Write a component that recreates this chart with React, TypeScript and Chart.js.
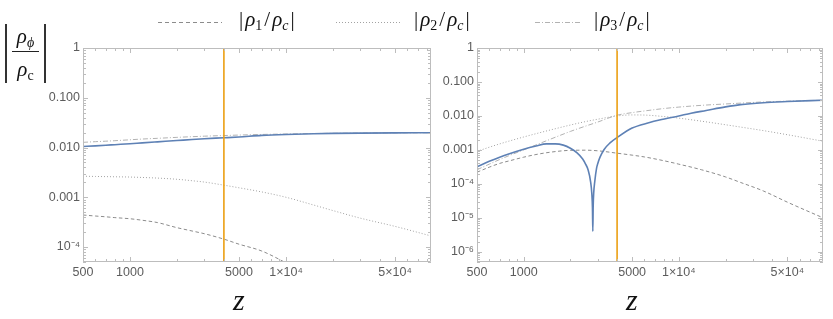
import React, { useEffect, useRef } from 'react';
import { Chart, registerables } from 'chart.js';

Chart.register(...registerables);

// ---------- data ----------
const Z_MARK = 4000;
const X_TICKS = [500, 1000, 5000, 10000, 50000];
const X_TICK_LABELS = ['500', '1000', '5000', '1×10⁴', '5×10⁴'];
const X_MINOR = [600, 700, 800, 900, 2000, 3000, 4000, 6000, 7000, 8000, 9000, 20000, 30000, 40000, 60000, 70000, 80000];

const Y_TICKS_L = [1e-4, 1e-3, 1e-2, 1e-1, 1];
const Y_LABELS_L = ['10⁻⁴', '0.001', '0.010', '0.100', '1'];
const Y_TICKS_R = [1e-6, 1e-5, 1e-4, 1e-3, 1e-2, 1e-1, 1];
const Y_LABELS_R = ['10⁻⁶', '10⁻⁵', '10⁻⁴', '0.001', '0.010', '0.100', '1'];

// left panel
const zL = [500, 600, 700, 800, 1000, 1200, 1500, 2000, 2500, 3000, 4000, 5000, 7000, 10000, 15000, 20000, 30000, 50000, 85000];
const phiL = [0.0105, 0.0108, 0.0111, 0.0114, 0.0119, 0.0124, 0.0130, 0.0138, 0.0145, 0.0150, 0.0157, 0.0163, 0.0175, 0.0183, 0.0189, 0.0192, 0.0195, 0.0197, 0.0198];
const rho1L = [4.4e-4, 4.2e-4, 4.05e-4, 3.9e-4, 3.7e-4, 3.45e-4, 3.1e-4, 2.45e-4, 2.1e-4, 1.85e-4, 1.44e-4, 1.14e-4, 8.3e-5, 4.8e-5, 2.4e-5, 1.4e-5, 6.5e-6, 2.6e-6, 9e-7];
const rho2L = [2.65e-3, 2.62e-3, 2.6e-3, 2.58e-3, 2.55e-3, 2.5e-3, 2.43e-3, 2.3e-3, 2.15e-3, 2.02e-3, 1.75e-3, 1.55e-3, 1.28e-3, 1.0e-3, 7.0e-4, 5.4e-4, 3.8e-4, 2.6e-4, 1.67e-4];
const rho3L = [0.0127, 0.0131, 0.0134, 0.0137, 0.0143, 0.0148, 0.0153, 0.0160, 0.0165, 0.0169, 0.0174, 0.0178, 0.0183, 0.0187, 0.0191, 0.0193, 0.0195, 0.0197, 0.0198];

// right panel
const zR = [500, 600, 700, 800, 1000, 1200, 1500, 2000, 2500, 3000, 4000, 5000, 6000, 8000, 10000, 14000, 20000, 25000, 35000, 50000, 85000];
const rho1R = [2.2e-4, 3.1e-4, 4.0e-4, 4.7e-4, 6.1e-4, 7.3e-4, 8.6e-4, 9.7e-4, 9.8e-4, 9.4e-4, 8.0e-4, 7.0e-4, 6.2e-4, 4.8e-4, 3.8e-4, 2.6e-4, 1.6e-4, 1.1e-4, 6.2e-5, 2.9e-5, 1.0e-5];
const rho2R = [9.0e-4, 1.2e-3, 1.5e-3, 1.8e-3, 2.4e-3, 3.0e-3, 3.9e-3, 5.4e-3, 6.8e-3, 8.0e-3, 1.0e-2, 1.07e-2, 1.06e-2, 9.6e-3, 8.6e-3, 7.0e-3, 5.5e-3, 4.7e-3, 3.7e-3, 2.8e-3, 1.8e-3];
const rho3R = [2.6e-4, 3.8e-4, 5.2e-4, 6.7e-4, 1.0e-3, 1.4e-3, 2.1e-3, 3.5e-3, 5.0e-3, 6.6e-3, 1.05e-2, 1.25e-2, 1.4e-2, 1.65e-2, 1.82e-2, 2.05e-2, 2.25e-2, 2.38e-2, 2.58e-2, 2.72e-2, 2.9e-2];
const zPhiR = [500, 600, 700, 800, 1000, 1200, 1400, 1600, 1800, 2000, 2200, 2400, 2500, 2600, 2700, 2750, 2775, 2790, 2805, 2830, 2870, 2950, 3000, 3100, 3300, 3600, 4000, 5000, 6400, 7500, 10000, 12000, 15000, 20000, 25000, 35000, 50000, 85000];
const phiR = [3.2e-4, 4.6e-4, 6.1e-4, 7.6e-4, 1.05e-3, 1.3e-3, 1.5e-3, 1.5e-3, 1.38e-3, 1.12e-3, 8.3e-4, 5.4e-4, 3.9e-4, 2.6e-4, 1.15e-4, 5.0e-5, 1.9e-5, 4e-6, 2.2e-5, 5.8e-5, 1.15e-4, 2.9e-4, 3.9e-4, 6.0e-4, 1.03e-3, 1.6e-3, 2.3e-3, 4.4e-3, 6.3e-3, 7.6e-3, 1.0e-2, 1.2e-2, 1.45e-2, 1.85e-2, 2.15e-2, 2.45e-2, 2.65e-2, 2.9e-2];

// ---------- styling ----------
const BLUE = '#5e81b5';
const ORANGE = '#eb9f12';
const FRAME = '#bdbdbd';
const TICK_TXT = '#5c5c5c';

const pts = (zs: number[], ys: number[]) => zs.map((z, i) => ({ x: z, y: ys[i] }));

const framePlugin = {
  id: 'mmaFrame',
  afterDraw(chart: any) {
    const { ctx, chartArea } = chart;
    const { left, right, top, bottom } = chartArea;
    const xs = chart.scales.x;
    const ys = chart.scales.y;
    ctx.save();
    ctx.strokeStyle = FRAME;
    ctx.lineWidth = 1;
    ctx.beginPath();
    ctx.rect(Math.round(left) + 0.5, Math.round(top) + 0.5, Math.round(right - left) - 1, Math.round(bottom - top) - 1);
    ctx.stroke();
    const drawX = (v: number, len: number) => {
      const p = Math.round(xs.getPixelForValue(v)) + 0.5;
      ctx.moveTo(p, bottom);
      ctx.lineTo(p, bottom - len);
      ctx.moveTo(p, top);
      ctx.lineTo(p, top + len);
    };
    const drawY = (v: number, len: number) => {
      const p = Math.round(ys.getPixelForValue(v)) + 0.5;
      ctx.moveTo(left, p);
      ctx.lineTo(left + len, p);
      ctx.moveTo(right, p);
      ctx.lineTo(right - len, p);
    };
    ctx.beginPath();
    X_TICKS.forEach((v) => drawX(v, 5));
    X_MINOR.forEach((v) => drawX(v, 3));
    const yMin = ys.min;
    for (let k = Math.floor(Math.log10(yMin)); k <= 0; k++) {
      for (let m = 1; m <= 9; m++) {
        const v = m * Math.pow(10, k);
        if (v < yMin * 0.999 || v > 1.0001) continue;
        drawY(v, m === 1 ? 5 : 3);
      }
    }
    ctx.stroke();
    ctx.restore();
  },
};

function makeConfig(
  series: { z: number[]; v: number[]; color: string; dash: number[]; width: number }[],
  yMin: number,
  yTicks: number[],
  yLabels: string[],
  yWidth: number,
  padRight: number
): any {
  const datasets: any[] = [
    {
      data: [
        { x: Z_MARK, y: yMin },
        { x: Z_MARK, y: 1 },
      ],
      borderColor: ORANGE,
      borderWidth: 1.6,
      pointRadius: 0,
      showLine: true,
    },
    ...series.map((s) => ({
      data: pts(s.z, s.v),
      borderColor: s.color,
      borderWidth: s.width,
      borderDash: s.dash,
      pointRadius: 0,
      showLine: true,
      cubicInterpolationMode: 'monotone',
    })),
  ];
  const tickFont = { family: 'Liberation Sans, Arial, sans-serif', size: 12.5 };
  return {
    type: 'scatter',
    data: { datasets },
    options: {
      animation: false,
      responsive: false,
      events: [],
      layout: { padding: { left: 0, right: padRight, top: 48, bottom: 0 } },
      plugins: { legend: { display: false }, tooltip: { enabled: false } },
      scales: {
        x: {
          type: 'logarithmic',
          min: 500,
          max: 85000,
          bounds: 'data',
          grid: { display: false, drawTicks: false },
          border: { display: false },
          ticks: {
            autoSkip: false,
            maxRotation: 0,
            padding: 3,
            color: TICK_TXT,
            font: tickFont,
            callback: (_v: any, i: number) => X_TICK_LABELS[i],
          },
          afterBuildTicks: (s: any) => {
            s.ticks = X_TICKS.map((v) => ({ value: v }));
          },
          afterFit: (s: any) => {
            s.height = 57;
          },
        },
        y: {
          type: 'logarithmic',
          min: yMin,
          max: 1,
          bounds: 'data',
          grid: { display: false, drawTicks: false },
          border: { display: false },
          ticks: {
            autoSkip: false,
            padding: 3,
            color: TICK_TXT,
            font: tickFont,
            callback: (_v: any, i: number) => yLabels[i],
          },
          afterBuildTicks: (s: any) => {
            s.ticks = yTicks.map((v) => ({ value: v }));
          },
          afterFit: (s: any) => {
            s.width = yWidth;
          },
        },
      },
    },
    plugins: [framePlugin],
  };
}

function Panel({ config, left, width }: { config: any; left: number; width: number }) {
  const ref = useRef<HTMLCanvasElement>(null);
  useEffect(() => {
    const chart = new Chart(ref.current as HTMLCanvasElement, config);
    return () => chart.destroy();
  }, [config]);
  return (
    <canvas
      ref={ref}
      width={width}
      height={319}
      style={{ position: 'absolute', left, top: 0, width, height: 319 }}
    />
  );
}

const G1 = '#8c8c8c';
const G2 = '#a2a2a2';
const G3 = '#b2b2b2';
const DASH1 = [3.5, 2.5];
const DASH2 = [1, 2];
const DASH3 = [5, 2, 1, 2];

const leftConfig = makeConfig(
  [
    { z: zL, v: phiL, color: BLUE, dash: [], width: 1.6 },
    { z: zL, v: rho1L, color: G1, dash: DASH1, width: 1 },
    { z: zL, v: rho2L, color: G2, dash: DASH2, width: 1 },
    { z: zL, v: rho3L, color: G3, dash: DASH3, width: 1 },
  ],
  5e-5,
  Y_TICKS_L,
  Y_LABELS_L,
  83,
  9
);

const rightConfig = makeConfig(
  [
    { z: zPhiR, v: phiR, color: BLUE, dash: [], width: 1.6 },
    { z: zR, v: rho1R, color: G1, dash: DASH1, width: 1 },
    { z: zR, v: rho2R, color: G2, dash: DASH2, width: 1 },
    { z: zR, v: rho3R, color: G3, dash: DASH3, width: 1 },
  ],
  5e-7,
  Y_TICKS_R,
  Y_LABELS_R,
  37,
  10
);

const serif = '"Liberation Serif", "Times New Roman", serif';

function LegendText({ sub, left }: { sub: string; left: number }) {
  return (
    <div
      style={{
        position: 'absolute',
        left,
        top: 9,
        fontFamily: serif,
        fontSize: 21,
        lineHeight: '21px',
        whiteSpace: 'nowrap',
        color: '#111',
      }}
    >
      <span style={{ marginRight: 2 }}>|</span>
      <i>ρ</i>
      <span style={{ fontSize: 14, position: 'relative', top: 4 }}>{sub}</span>
      <span style={{ margin: '0 2px' }}>/</span>
      <i>ρ</i>
      <i style={{ fontSize: 14, position: 'relative', top: 4 }}>c</i>
      <span style={{ marginLeft: 2 }}>|</span>
    </div>
  );
}

function LegendSample({ left, width, dash, color }: { left: number; width: number; dash: string; color: string }) {
  return (
    <svg style={{ position: 'absolute', left, top: 21 }} width={width} height={4}>
      <line x1={0} y1={1.5} x2={width} y2={1.5} stroke={color} strokeWidth={1.2} strokeDasharray={dash} />
    </svg>
  );
}

export default function App() {
  return (
    <div style={{ position: 'absolute', left: 0, top: 0, width: 833, height: 319, background: '#fff', overflow: 'hidden' }}>
      <Panel config={leftConfig} left={0} width={440} />
      <Panel config={rightConfig} left={440} width={393} />

      <LegendSample left={158} width={64} dash="4 3" color={G1} />
      <LegendText sub="1" left={239} />
      <LegendSample left={336} width={64} dash="1 2" color={G2} />
      <LegendText sub="2" left={414} />
      <LegendSample left={535} width={46} dash="5 2 1 2" color={G3} />
      <LegendText sub="3" left={594} />

      {/* y-axis label */}
      <div style={{ position: 'absolute', left: 5, top: 24, height: 59, display: 'flex', alignItems: 'stretch', fontFamily: serif, color: '#111' }}>
        <div style={{ borderLeft: '2px solid #333' }} />
        <div style={{ display: 'flex', flexDirection: 'column', alignItems: 'center', justifyContent: 'center', margin: '0 5px' }}>
          <div style={{ fontSize: 21, lineHeight: '18px', whiteSpace: 'nowrap', paddingBottom: 3 }}>
            <i>ρ</i>
            <i style={{ fontSize: 14, position: 'relative', top: 4 }}>ϕ</i>
          </div>
          <div style={{ borderTop: '1.3px solid #222', width: 27 }} />
          <div style={{ fontSize: 21, lineHeight: '18px', whiteSpace: 'nowrap', paddingTop: 8 }}>
            <i>ρ</i>
            <span style={{ fontSize: 14, position: 'relative', top: 4 }}>c</span>
          </div>
        </div>
        <div style={{ borderLeft: '2px solid #333' }} />
      </div>

      {/* x-axis labels */}
      <div style={{ position: 'absolute', left: 233, top: 285, fontFamily: serif, fontStyle: 'italic', fontSize: 30, lineHeight: '30px', color: '#111' }}>z</div>
      <div style={{ position: 'absolute', left: 626, top: 285, fontFamily: serif, fontStyle: 'italic', fontSize: 30, lineHeight: '30px', color: '#111' }}>z</div>
    </div>
  );
}
